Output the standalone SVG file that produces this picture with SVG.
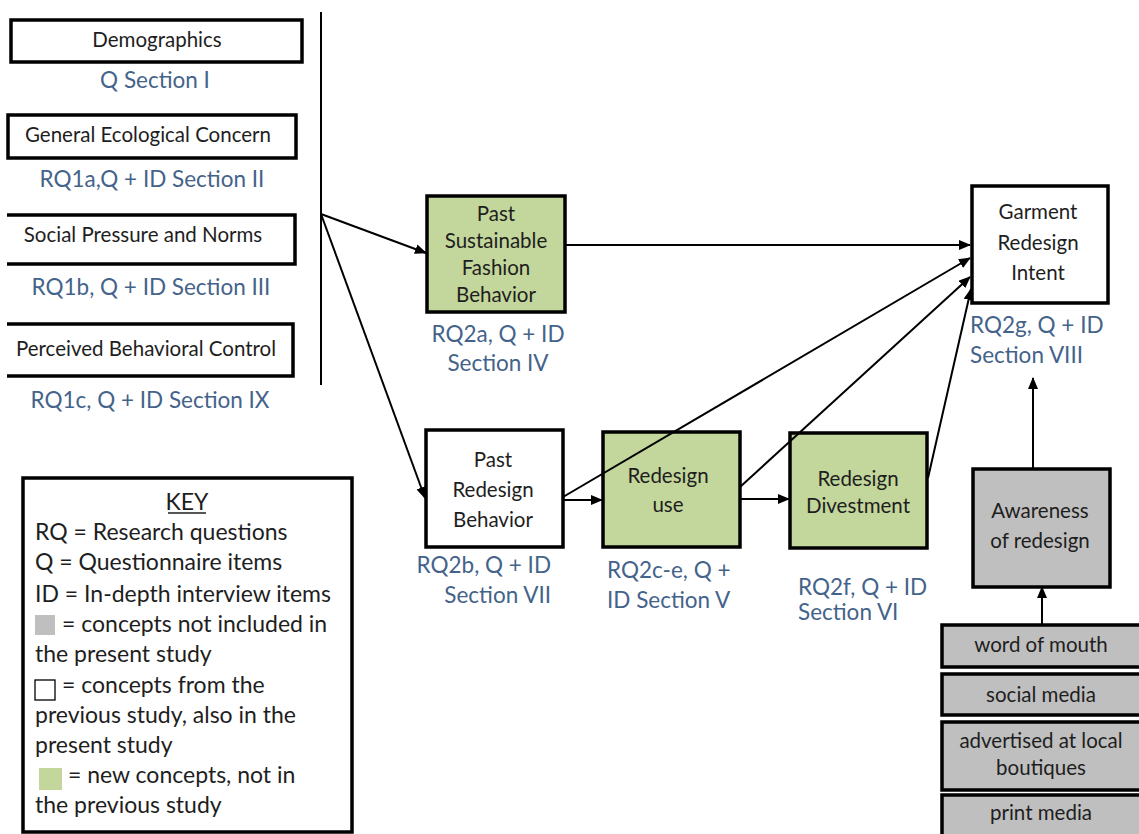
<svg xmlns="http://www.w3.org/2000/svg" width="1139" height="834" viewBox="0 0 1139 834">
  <defs>
    <marker id="arrow" markerUnits="userSpaceOnUse" markerWidth="12" markerHeight="10" refX="11" refY="5" orient="auto">
      <path d="M0,0 L12,5 L0,10 z" fill="#000"/>
    </marker>
    <style>
      .box { stroke: #000; stroke-width: 3.5; }
      .white { fill: #fff; }
      .green { fill: #c3d69b; }
      .gray { fill: #bfbfbf; }
      .node { font-family: Lato, "Liberation Sans", sans-serif; font-size: 20.5px; fill: #1e1e1e; text-anchor: middle; }
      .lbl { font-family: Lato, "Liberation Sans", sans-serif; font-size: 22.5px; fill: #44638a; }
      .mid { text-anchor: middle; }
      .end { text-anchor: end; }
      .key { font-family: Lato, "Liberation Sans", sans-serif; font-size: 23px; fill: #1e1e1e; }
      .conn { stroke: #000; stroke-width: 2; fill: none; }
    </style>
  </defs>
  <rect width="1139" height="834" fill="#fff"/>

  <!-- predictor column -->
  <g id="demographics">
    <rect class="box white" x="11" y="20" width="291" height="42"/>
    <text class="node" x="157" y="47">Demographics</text>
    <text class="lbl mid" x="155" y="88">Q Section I</text>
  </g>
  <g id="ecological-concern">
    <rect class="box white" x="8" y="115" width="288" height="43"/>
    <text class="node" x="148" y="142">General Ecological Concern</text>
    <text class="lbl mid" x="152" y="187">RQ1a,Q + ID Section II</text>
  </g>
  <g id="social-pressure">
    <path class="box white" d="M7 215 H295 V264 H7"/>
    <text class="node" x="143" y="242">Social Pressure and Norms</text>
    <text class="lbl mid" x="151" y="295">RQ1b, Q + ID Section III</text>
  </g>
  <g id="behavioral-control">
    <path class="box white" d="M7 324 H293 V376 H7"/>
    <text class="node" x="146" y="356">Perceived Behavioral Control</text>
    <text class="lbl mid" x="150" y="408">RQ1c, Q + ID Section IX</text>
  </g>

  <!-- behaviour boxes -->
  <g id="past-sustainable">
    <rect class="box green" x="427" y="196" width="138" height="116"/>
    <text class="node" x="496" y="221">Past</text>
    <text class="node" x="496" y="248">Sustainable</text>
    <text class="node" x="496" y="275">Fashion</text>
    <text class="node" x="496" y="302">Behavior</text>
    <text class="lbl mid" x="498" y="342">RQ2a, Q + ID</text>
    <text class="lbl mid" x="498" y="371">Section IV</text>
  </g>
  <g id="garment-intent">
    <rect class="box white" x="972" y="186" width="136" height="117"/>
    <text class="node" x="1038" y="219">Garment</text>
    <text class="node" x="1038" y="250">Redesign</text>
    <text class="node" x="1038" y="280">Intent</text>
    <text class="lbl" x="970" y="333">RQ2g, Q + ID</text>
    <text class="lbl" x="970" y="363">Section VIII</text>
  </g>
  <g id="past-redesign">
    <rect class="box white" x="426" y="430" width="137" height="117"/>
    <text class="node" x="493" y="467">Past</text>
    <text class="node" x="493" y="497">Redesign</text>
    <text class="node" x="493" y="527">Behavior</text>
    <text class="lbl end" x="551" y="573">RQ2b, Q + ID</text>
    <text class="lbl end" x="551" y="603">Section VII</text>
  </g>
  <g id="redesign-use">
    <rect class="box green" x="603" y="432" width="137" height="115"/>
    <text class="node" x="668" y="483">Redesign</text>
    <text class="node" x="668" y="512">use</text>
    <text class="lbl" x="607" y="578">RQ2c-e, Q +</text>
    <text class="lbl" x="607" y="608">ID Section V</text>
  </g>
  <g id="redesign-divestment">
    <rect class="box green" x="790" y="433" width="137" height="115"/>
    <text class="node" x="858" y="486">Redesign</text>
    <text class="node" x="858" y="513">Divestment</text>
    <text class="lbl" x="798" y="595">RQ2f, Q + ID</text>
    <text class="lbl" x="798" y="620">Section VI</text>
  </g>

  <!-- awareness and its sources -->
  <g id="awareness">
    <rect class="box gray" x="973" y="469" width="137" height="118"/>
    <text class="node" x="1040" y="518">Awareness</text>
    <text class="node" x="1040" y="548">of redesign</text>
  </g>
  <g id="word-of-mouth">
    <rect class="box gray" x="942" y="625" width="200" height="42"/>
    <text class="node" x="1041" y="652">word of mouth</text>
  </g>
  <g id="social-media">
    <rect class="box gray" x="942" y="674" width="200" height="41"/>
    <text class="node" x="1041" y="702">social media</text>
  </g>
  <g id="local-boutiques">
    <rect class="box gray" x="942" y="722" width="200" height="68"/>
    <text class="node" x="1041" y="748">advertised at local</text>
    <text class="node" x="1041" y="775">boutiques</text>
  </g>
  <g id="print-media">
    <rect class="box gray" x="942" y="795" width="200" height="50"/>
    <text class="node" x="1041" y="820">print media</text>
  </g>

  <!-- legend -->
  <g id="key">
    <rect class="box white" x="23" y="478" width="329" height="354"/>
    <text class="key" x="187" y="510" text-anchor="middle">KEY</text>
    <line x1="168" y1="513" x2="206" y2="513" stroke="#1e1e1e" stroke-width="1.3"/>
    <text class="key" x="35" y="540">RQ = Research questions</text>
    <text class="key" x="35" y="570">Q  = Questionnaire items</text>
    <text class="key" x="35" y="602">ID = In-depth interview items</text>
    <rect x="35" y="615" width="20" height="20" fill="#bfbfbf"/>
    <text class="key" x="62" y="632">= concepts not included in</text>
    <text class="key" x="35" y="662">the present study</text>
    <rect x="35" y="680" width="20" height="20" fill="#fff" stroke="#000" stroke-width="1.3"/>
    <text class="key" x="62" y="693">= concepts from the</text>
    <text class="key" x="35" y="723">previous study, also in the</text>
    <text class="key" x="35" y="753">present study</text>
    <rect x="39" y="768" width="23" height="22" fill="#c3d69b"/>
    <text class="key" x="68" y="783">= new concepts, not in</text>
    <text class="key" x="35" y="813">the previous study</text>
  </g>

  <!-- connectors -->
  <g id="connectors">
    <line class="conn" x1="321" y1="12" x2="321" y2="385"/>
    <line class="conn" x1="321" y1="214" x2="426" y2="253" marker-end="url(#arrow)"/>
    <line class="conn" x1="321" y1="214" x2="425" y2="498" marker-end="url(#arrow)"/>
    <line class="conn" x1="565" y1="245" x2="970" y2="245" marker-end="url(#arrow)"/>
    <line class="conn" x1="563" y1="497" x2="970" y2="258" marker-end="url(#arrow)"/>
    <line class="conn" x1="740" y1="487" x2="970" y2="277" marker-end="url(#arrow)"/>
    <line class="conn" x1="928" y1="478" x2="971" y2="289" marker-end="url(#arrow)"/>
    <line class="conn" x1="563" y1="500" x2="602" y2="500" marker-end="url(#arrow)"/>
    <line class="conn" x1="740" y1="499" x2="789" y2="499" marker-end="url(#arrow)"/>
    <line class="conn" x1="1033" y1="469" x2="1033" y2="378" marker-end="url(#arrow)"/>
    <line class="conn" x1="1042" y1="625" x2="1042" y2="587" marker-end="url(#arrow)"/>
  </g>
</svg>
